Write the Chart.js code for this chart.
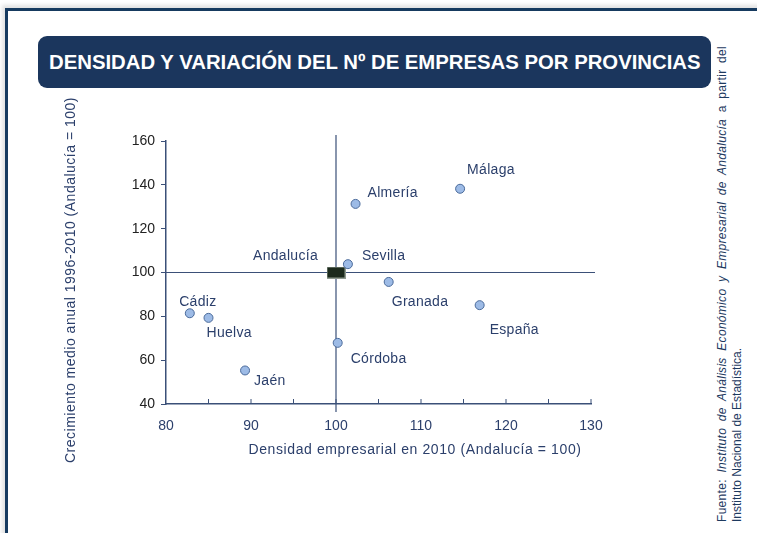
<!DOCTYPE html>
<html>
<head>
<meta charset="utf-8">
<script src="https://cdn.jsdelivr.net/npm/chart.js@4.4.1/dist/chart.umd.min.js"></script>
<style>
  html, body { margin: 0; padding: 0; background: #fff; overflow: hidden; }
  body { width: 757px; height: 533px; position: relative; font-family: "Liberation Sans", Arial, sans-serif; }
  .frame {
    position: absolute; left: 5px; top: 8px; width: 820px; height: 600px;
    border-left: 3px solid #163a5f; border-top: 3px solid #163a5f;
    box-shadow: -3px -3px 4px rgba(0,0,0,0.12);
  }
  .title-box {
    position: absolute; left: 38px; top: 36px; width: 673px; height: 52px;
    background: #1b365d; border-radius: 9px;
    color: #fff; font-weight: bold; font-size: 21px; line-height: 52px;
    text-align: center; white-space: nowrap; overflow: hidden;
  }
  .title-box span { display: inline-block; transform-origin: 50% 50%; }
  .source {
    position: absolute; left: 715px; top: 522px; width: 476px;
    transform-origin: 0 0; transform: rotate(-90deg);
    font-size: 12px; line-height: 15px; color: #1e3a5f; white-space: nowrap;
  }
  .source .l1 { text-align: justify; text-align-last: justify; letter-spacing: 0.3px; }
  #wrap { position: absolute; left: 0; top: 0; width: 757px; height: 533px; }
</style>
</head>
<body>
<div class="frame"></div>
<div class="title-box"><span id="ttl">DENSIDAD Y VARIACIÓN DEL Nº DE EMPRESAS POR PROVINCIAS</span></div>
<div class="source">
  <div class="l1">Fuente: <i>Instituto de Análisis Económico y Empresarial de Andalucía</i> a partir del</div>
  <div>Instituto Nacional de Estadística.</div>
</div>
<div id="wrap"><canvas id="chart"></canvas></div>
<script>
// squeeze the title to the width it has in the original
const ttl = document.getElementById('ttl');
ttl.style.transform = 'scaleX(' + (652 / ttl.offsetWidth) + ')';

// provinces (and Spain) : density 2010 vs. growth 1996-2010, Andalucía = 100
const names   = ['Almería', 'Cádiz', 'Córdoba', 'Granada', 'Huelva', 'Jaén', 'Málaga', 'Sevilla', 'España'];
const density = [102.3, 82.8, 100.2, 106.2, 85.0, 89.3, 114.6, 101.4, 116.9];
const growth  = [131.3, 81.4, 67.9, 95.7, 79.3, 55.3, 138.2, 103.8, 85.1];

const refName = 'Andalucía';
const refPoint = [100, 100];

const xTicks = [80, 90, 100, 110, 120, 130];
const yTicks = [40, 60, 80, 100, 120, 140, 160];

const xTitle = 'Densidad empresarial en 2010 (Andalucía = 100)';
const yTitle = 'Crecimiento medio anual 1996-2010 (Andalucía = 100)';

const navy = '#2b3f6b';
const axisColor = '#3b5078';
const fontFam = '"Liberation Sans", Arial, sans-serif';

// where each name sits relative to its marker
const labelPlacement = {
  'Almería':  { dx: 12, dy: -11, align: 'left' },
  'Cádiz':    { dx: 8,  dy: -11, align: 'center' },
  'Córdoba':  { dx: 13, dy: 16,  align: 'left' },
  'Granada':  { dx: 3,  dy: 20,  align: 'left' },
  'Huelva':   { dx: -2, dy: 15,  align: 'left' },
  'Jaén':     { dx: 9,  dy: 11,  align: 'left' },
  'Málaga':   { dx: 7,  dy: -19, align: 'left' },
  'Sevilla':  { dx: 14, dy: -8,  align: 'left' },
  'España':   { dx: 10, dy: 25,  align: 'left' },
  'Andalucía':{ dx: -18, dy: -16, align: 'right' }
};

// dark box used for Andalucía
const box = document.createElement('canvas');
box.width = 19; box.height = 12;
(function () {
  const c = box.getContext('2d');
  c.fillStyle = '#8f9a8f';
  c.fillRect(0, 0, 19, 12);
  c.fillStyle = '#1c2a1c';
  c.fillRect(1, 1, 17, 10);
})();

const refLines = {
  id: 'refLines',
  beforeDatasetsDraw(chart) {
    const { ctx, chartArea, scales } = chart;
    const px = scales.x.getPixelForValue(refPoint[0]);
    const py = scales.y.getPixelForValue(refPoint[1]);
    ctx.save();
    ctx.strokeStyle = axisColor;
    ctx.lineWidth = 1.2;
    ctx.beginPath();
    ctx.moveTo(px, chartArea.top - 6);
    ctx.lineTo(px, chartArea.bottom + 8);
    ctx.moveTo(chartArea.left, py);
    ctx.lineTo(chartArea.right + 4, py);
    ctx.stroke();
    // x tick marks pointing into the plot
    ctx.lineWidth = 1;
    for (let v = 85; v <= 130; v += 5) {
      const x = scales.x.getPixelForValue(v);
      ctx.beginPath();
      ctx.moveTo(x, chartArea.bottom);
      ctx.lineTo(x, chartArea.bottom - 5);
      ctx.stroke();
    }
    ctx.restore();
  }
};

const textLayer = {
  id: 'textLayer',
  afterDatasetsDraw(chart) {
    const { ctx } = chart;
    const area = chart.chartArea;
    ctx.save();
    ctx.font = '14px ' + fontFam;
    ctx.fillStyle = navy;
    ctx.textBaseline = 'middle';
    ctx.letterSpacing = '0.3px';
    chart.data.datasets.forEach((ds, di) => {
      const meta = chart.getDatasetMeta(di);
      if (!ds.names) return;
      meta.data.forEach((el, i) => {
        const p = labelPlacement[ds.names[i]];
        ctx.textAlign = p.align;
        ctx.fillText(ds.names[i], el.x + p.dx, el.y + p.dy);
      });
    });
    // axis titles
    ctx.letterSpacing = '0.6px';
    ctx.textAlign = 'center';
    ctx.fillText(xTitle, area.left + 249, area.bottom + 46);
    ctx.translate(area.left - 95, area.top + 139);
    ctx.rotate(-Math.PI / 2);
    ctx.letterSpacing = '0.5px';
    ctx.fillText(yTitle, 0, 0);
    ctx.restore();
  }
};

new Chart(document.getElementById('chart'), {
  type: 'scatter',
  data: {
    datasets: [
      {
        names: names,
        data: density.map((d, i) => ({ x: d, y: growth[i] })),
        pointRadius: 4.5,
        pointHoverRadius: 4.5,
        backgroundColor: '#9dbbe6',
        borderColor: '#4a6a9a',
        borderWidth: 1
      },
      {
        names: [refName],
        data: [{ x: refPoint[0], y: refPoint[1] }],
        pointStyle: box,
        pointRadius: 8
      }
    ]
  },
  options: {
    responsive: true,
    maintainAspectRatio: false,
    animation: false,
    events: [],
    layout: { padding: { left: 60, top: 141, right: 166, bottom: 69 } },
    plugins: { legend: { display: false }, tooltip: { enabled: false } },
    scales: {
      x: {
        type: 'linear', min: xTicks[0], max: xTicks[xTicks.length - 1],
        afterBuildTicks: s => { s.ticks = xTicks.map(v => ({ value: v })); },
        afterFit: s => { s.height = 60; },
        grid: { display: false },
        border: { display: true, color: axisColor, width: 1.5 },
        ticks: { color: navy, padding: 6, font: { size: 14, family: fontFam } }
      },
      y: {
        type: 'linear', min: yTicks[0], max: yTicks[yTicks.length - 1],
        afterBuildTicks: s => { s.ticks = yTicks.map(v => ({ value: v })); },
        afterFit: s => { s.width = 106; },
        grid: { drawOnChartArea: false, drawTicks: true, tickLength: 5, color: axisColor },
        border: { display: true, color: axisColor, width: 1.5 },
        ticks: { color: '#222', padding: 6, font: { size: 14, family: fontFam } }
      }
    }
  },
  plugins: [refLines, textLayer]
});
</script>
</body>
</html>
